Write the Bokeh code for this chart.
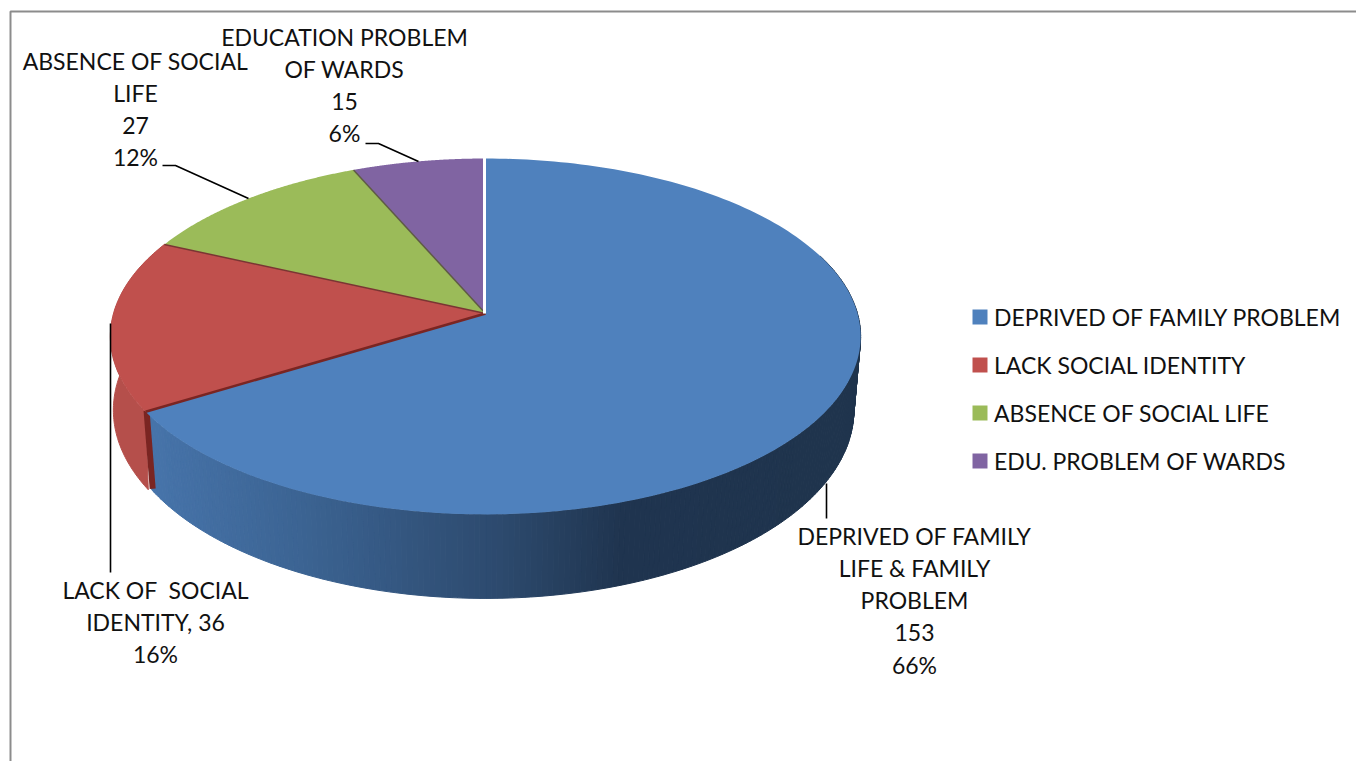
import numpy as np
from bokeh.plotting import figure
from bokeh.embed import file_html
from bokeh.resources import INLINE
from bokeh.core.properties import value as fixed

# Chart data
slice_values = [153, 36, 27, 15]
slice_labels = [
    ["DEPRIVED OF FAMILY", "LIFE & FAMILY", "PROBLEM"],
    ["LACK OF\u00a0 SOCIAL", "IDENTITY, {v}"],
    ["ABSENCE OF SOCIAL", "LIFE"],
    ["EDUCATION PROBLEM", "OF WARDS"],
]
legend_labels = [
    "DEPRIVED OF FAMILY PROBLEM",
    "LACK SOCIAL IDENTITY",
    "ABSENCE OF SOCIAL LIFE",
    "EDU. PROBLEM OF WARDS",
]
slice_colors = ["#4F81BD", "#C0504D", "#9BBB59", "#8064A2"]

FONT = "Lato"
FONT_SIZE = "23px"
LINE_STEP = 32.3

W, H = 1356, 761
p = figure(width=W, height=H, x_range=(0, W), y_range=(H, 0),
           output_backend="svg", toolbar_location=None, min_border=0,
           background_fill_color="white", border_fill_color="white")
p.axis.visible = False
p.grid.visible = False
p.outline_line_color = None

# Tilted disc: a projective view of the unit circle, so slices keep true angles
APEX_X, APEX_Y = 485.0, 313.0
PERSP, SPREAD_Y, SPREAD_X = 0.129, -134.6, 372.0


def top_face(theta):
    den = 1 + PERSP * np.cos(theta)
    return APEX_X + SPREAD_X * np.sin(theta) / den, (SPREAD_Y * np.cos(theta) + APEX_Y) / den


def bottom_face(theta, shrink=0.982):
    x, y = top_face(theta)
    return APEX_X + shrink * (x - APEX_X), 336 + 1.058 * (y - 336) + 73.7


total = sum(slice_values)
edges = 2 * np.pi * np.cumsum([0] + slice_values) / total


def wall_color(x):
    stops_x = [150, 300, 500, 620, 860]
    r = np.interp(x, stops_x, [0x47, 0x3C, 0x2D, 0x20, 0x1F])
    g = np.interp(x, stops_x, [0x74, 0x64, 0x4A, 0x35, 0x34])
    b = np.interp(x, stops_x, [0xAA, 0x93, 0x6E, 0x50, 0x4D])
    return "#%02x%02x%02x" % (int(r), int(g), int(b))


# Outer wall of the second slice
ts = np.linspace(edges[1], edges[2], 80)
tx, ty = top_face(ts)
bx, by = bottom_face(ts, shrink=0.992)
p.patch(np.r_[tx, bx[::-1]], np.r_[ty, by[::-1]], fill_color="#B54F4B", line_color="#B54F4B")

# Outer wall of the large slice, shaded strip by strip
ts = np.linspace(np.radians(70), edges[1], 220)
xs, ys, cols = [], [], []
for a, b in zip(ts[:-1], ts[1:]):
    xa, ya = top_face(a)
    xb, yb = top_face(b)
    xc, yc = bottom_face(b)
    xd, yd = bottom_face(a)
    xs.append([xa, xb, xc, xd])
    ys.append([ya, yb, yc, yd])
    cols.append(wall_color((xa + xb) / 2))
p.patches(xs, ys, fill_color=cols, line_color=cols, line_width=1)

# Cut face of the second slice, seen beside the large slice
cx0, cy0 = top_face(edges[1])
cx1, cy1 = bottom_face(edges[1])
p.line([cx0 + 1, cx1 + 1], [cy0 - 1, cy1 - 1], line_color="#7A2522", line_width=6)

# Top faces, last slice first so the large one sits above the joins
for i in [3, 2, 1, 0]:
    ts = np.linspace(edges[i], edges[i + 1], 200)
    x, y = top_face(ts)
    p.patch(np.r_[APEX_X, x], np.r_[APEX_Y, y], fill_color=slice_colors[i], line_color=None)

# Joins between slices
for i, col in [(1, "#7A2522"), (2, "#7A3533"), (3, "#5E5A45")]:
    x, y = top_face(edges[i])
    p.line([APEX_X, x], [APEX_Y, y], line_color=col, line_width=1.5 if i > 1 else 2.5)
x, y = top_face(0.0)
p.line([APEX_X - 1, x - 1], [APEX_Y, y - 1], line_color="white", line_width=3)

# Frame on the top and left
p.line([10, 10, W], [H, 11, 11], line_color="#8C8C8C", line_width=2)

# Leader lines
for lx, ly in [([365, 378, 418], [143, 143, 161]),
               ([162, 175, 248], [165, 165, 198]),
               ([110, 110], [323, 572]),
               ([826, 826], [483, 518])]:
    p.line(lx, ly, line_color="black", line_width=1.6)

# Data labels: name lines, then value and share
label_centers = [(914, 535), (155, 589), (135, 60), (344, 36)]
tx, ty, tt = [], [], []
for i, (lines, v) in enumerate(zip(slice_labels, slice_values)):
    pct = f"{round(100 * v / total)}%"
    rows = [s.format(v=v) for s in lines]
    if "{v}" not in "".join(lines):
        rows.append(str(v))
    rows.append(pct)
    cx, cy = label_centers[i]
    for k, row in enumerate(rows):
        tx.append(cx)
        ty.append(cy + k * LINE_STEP)
        tt.append(row)
p.text(tx, ty, text=tt, text_font=fixed(FONT), text_font_size=FONT_SIZE, text_color="#111111",
       text_align="center", text_baseline="middle")

# Legend
legend_y = [316.5 + 48 * i for i in range(len(legend_labels))]
p.rect([979.5] * 4, legend_y, width=15, height=15, fill_color=slice_colors, line_color=None)
p.text([993.5] * 4, [y - 0.5 for y in legend_y], text=legend_labels, text_font=fixed(FONT),
       text_font_size=FONT_SIZE, text_color="#111111", text_align="left", text_baseline="middle")

open("out.html", "w").write(file_html(p, INLINE))
